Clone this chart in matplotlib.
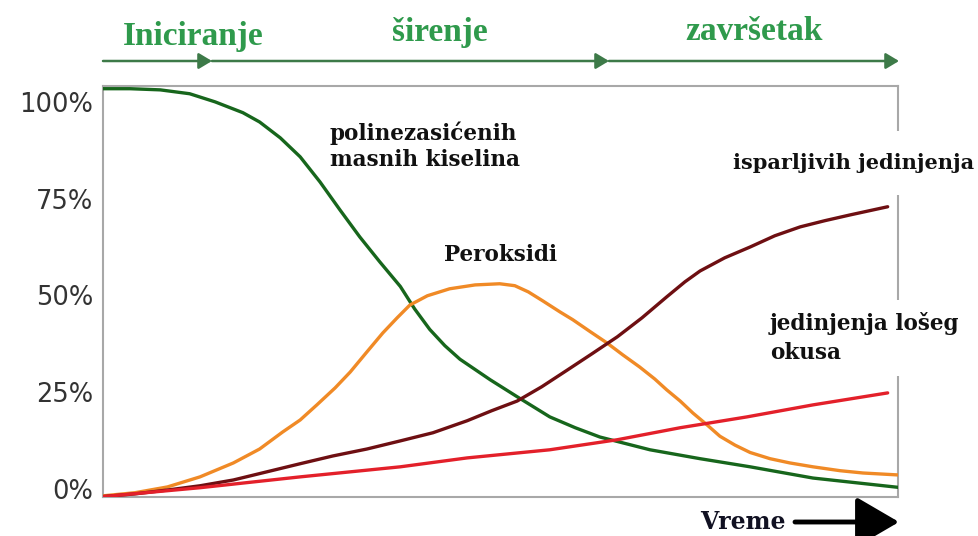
import matplotlib
matplotlib.use("Agg")
import matplotlib.pyplot as plt
from matplotlib.patches import FancyArrowPatch

# ---- data (x: relative time 0..100, y: percent) ----
pufa_x = [0, 3.4, 7.2, 10.9, 14.1, 17.6, 19.7, 22.3, 24.8, 27.3, 29.8, 32.3, 34.8, 37.4, 39.2, 41.1, 43.0,
          44.9, 48.7, 52.1, 56.2, 59.4, 62.5, 68.8, 75.1, 81.4, 89.3, 100]
pufa_y = [103.4, 103.4, 103.1, 102.1, 100.0, 97.2, 94.8, 90.7, 85.8, 79.3, 72.1, 65.1, 58.7, 52.3, 46.5, 41.2, 37.0,
          33.5, 28.2, 23.8, 18.6, 15.8, 13.4, 10.1, 7.8, 5.7, 2.8, 0.4]

perox_x = [0, 4.0, 8.1, 12.2, 16.4, 19.7, 22.6, 24.8, 26.9, 29.2, 31.1, 33.2, 35.2, 37.0, 38.6, 40.8, 43.6,
           46.8, 49.9, 51.8, 53.5, 55.3, 57.5, 59.1, 61.3, 63.4, 65.4, 67.5, 69.4, 70.9, 72.6, 74.2, 76.0,
           77.6, 79.5, 81.4, 83.9, 86.4, 89.3, 92.7, 95.6, 100]
perox_y = [-1.8, -1.0, 0.5, 3.1, 6.7, 10.3, 14.7, 17.8, 21.7, 26.1, 30.2, 35.4, 40.3, 44.2, 47.5, 49.9, 51.7,
           52.7, 53.0, 52.5, 50.9, 48.6, 45.7, 43.7, 40.6, 37.7, 34.6, 31.5, 28.4, 25.6, 22.7, 19.6, 16.5,
           13.6, 11.3, 9.4, 7.8, 6.7, 5.7, 4.7, 4.1, 3.6]

volat_x = [0, 4.0, 8.1, 12.2, 16.4, 20.6, 24.8, 28.9, 33.2, 37.4, 41.5, 45.8, 48.9, 52.1, 55.2, 58.4, 61.5,
           64.7, 67.8, 70.9, 73.2, 75.1, 78.2, 81.4, 84.5, 87.7, 90.8, 94.0, 98.7]
volat_y = [-2.0, -1.3, -0.3, 0.8, 2.3, 4.4, 6.5, 8.5, 10.3, 12.4, 14.5, 17.6, 20.2, 22.7, 26.4, 30.7, 34.9,
           39.3, 44.2, 49.6, 53.5, 56.3, 59.7, 62.5, 65.4, 67.7, 69.3, 70.8, 72.9]

offfl_x = [0, 12.2, 24.8, 37.4, 45.8, 56.2, 64.7, 72.6, 81.0, 89.3, 98.7]
offfl_y = [-2.0, 0.3, 3.1, 5.7, 8.0, 10.1, 12.7, 15.8, 18.6, 21.7, 24.8]

yticks = [0, 25, 50, 75, 100]
ytick_labels = ["0%", "25%", "50%", "75%", "100%"]
phases = ["Iniciranje", "širenje", "završetak"]

W, H = 979, 536
fig = plt.figure(figsize=(W / 100, H / 100), dpi=100)
fig.patch.set_facecolor("white")

def fx(px):
    return px / W

def fy(py):
    return 1 - py / H

ax = fig.add_axes([fx(103), fy(497), (898 - 103) / W, (497 - 86) / H])
ax.set_xlim(0, 100)
ax.set_ylim(-2.1, 104.1)

lw = 2.4
ax.plot(pufa_x, pufa_y, color="#17661c", lw=lw, solid_capstyle="round", zorder=3)
ax.plot(perox_x, perox_y, color="#f08a26", lw=lw, solid_capstyle="round", zorder=3)
ax.plot(volat_x, volat_y, color="#6e0f12", lw=lw, solid_capstyle="round", zorder=3)
ax.plot(offfl_x, offfl_y, color="#e3202a", lw=lw, solid_capstyle="round", zorder=3)

for s in ax.spines.values():
    s.set_color("#a8a8a8")
    s.set_linewidth(1.5)
ax.set_xticks([])
ax.set_yticks(yticks)
ax.set_yticklabels(ytick_labels, fontsize=18.5, color="#333333", family="DejaVu Sans")
ax.tick_params(axis="y", length=0, pad=7)

lab = "DejaVu Serif"

fig.text(fx(330), fy(146), "polinezasićenih\nmasnih kiselina", fontsize=15.5, fontweight="bold",
         family=lab, color="#111111", ha="left", va="center", linespacing=1.25)
fig.text(fx(501), fy(255), "Peroksidi", fontsize=15.5, fontweight="bold",
         family=lab, color="#111111", ha="center", va="center")
fig.text(fx(974), fy(163), "isparljivih jedinjenja", fontsize=15, fontweight="bold",
         family=lab, color="#111111", ha="right", va="center",
         bbox=dict(facecolor="white", edgecolor="none", pad=16), zorder=5)
fig.text(fx(770), fy(338), "jedinjenja lošeg\nokusa", fontsize=15.5, fontweight="bold",
         family=lab, color="#111111", ha="left", va="center", linespacing=1.4,
         bbox=dict(facecolor="white", edgecolor="none", pad=9), zorder=5)

# phase header
phase_color = "#2f9a4c"
phase_pos = [(193, 36), (440, 32), (754, 32)]
for name, (px, py) in zip(phases, phase_pos):
    fig.text(fx(px), fy(py), name, fontsize=24, fontweight="bold", family="Liberation Serif",
             color=phase_color, ha="center", va="center")

segs = [(103, 212), (212, 609), (609, 899)]
for a, b in segs:
    fig.add_artist(FancyArrowPatch((fx(a), fy(61)), (fx(b), fy(61)), transform=fig.transFigure,
                                   arrowstyle="-|>,head_length=5,head_width=3", mutation_scale=1.6,
                                   color="#3d7a48", lw=1.8, shrinkA=0, shrinkB=0))

# time arrow
fig.text(fx(743), fy(522), "Vreme", fontsize=17, fontweight="bold", family=lab,
         color="#111122", ha="center", va="center")
fig.add_artist(FancyArrowPatch((fx(795), fy(522)), (fx(899), fy(522)), transform=fig.transFigure,
                               arrowstyle="-|>,head_length=12,head_width=7", mutation_scale=2.2,
                               color="black", lw=3.5, shrinkA=0, shrinkB=0))

fig.savefig("out.png", dpi=100, facecolor="white")
